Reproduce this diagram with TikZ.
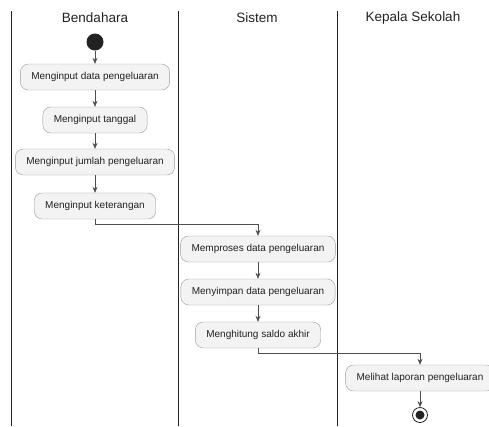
\documentclass[tikz,border=0pt]{standalone}
\usepackage{fontspec}
\setmainfont{Liberation Sans}
\usetikzlibrary{arrows.meta}
\definecolor{boxfill}{HTML}{F3F3F3}
\definecolor{boxline}{HTML}{9A9A9A}
\definecolor{ink}{HTML}{222222}

\tikzset{
    act/.style={draw=boxline,fill=boxfill,rounded corners=8pt,minimum height=26pt,
        inner xsep=11pt,font=\fontsize{10}{12}\selectfont,text=ink},
    flow/.style={-{Stealth[length=6pt,width=5pt]},draw=ink!80,line width=0.6pt},
    lane/.style={draw=ink,line width=0.8pt},
    lanehead/.style={font=\fontsize{13.5}{16}\selectfont,text=ink}
}

\begin{document}
\begin{tikzpicture}[x=1pt,y=-1pt]
    \useasboundingbox (0,0) rectangle (489,426);
    % lanes
    \draw[lane] (11,11) -- (11,426);
    \draw[lane] (178,11) -- (178,426);
    \draw[lane] (337,11) -- (337,426);
    \node[lanehead] at(95,18)(bend){Bendahara};
    \node[lanehead] at(257,18)(sis){Sistem};
    \node[lanehead] at(413,18)(kep){Kepala Sekolah};
    % start
    \node[circle,fill=ink,minimum size=17pt,inner sep=0pt] at(95,42)(start){};
    \node[act] at(95,77)(a1){Menginput data pengeluaran};
    \node[act] at(95,120)(a2){Menginput tanggal};
    \node[act] at(95,162)(a3){Menginput jumlah pengeluaran};
    \node[act] at(95,206)(a4){Menginput keterangan};
    \node[act] at(258,249)(a5){Memproses data pengeluaran};
    \node[act] at(258,292)(a6){Menyimpan data pengeluaran};
    \node[act] at(258,335)(a7){Menghitung saldo akhir};
    \node[act] at(420,378)(a8){Melihat laporan pengeluaran};
    % end
    \node[circle,draw=ink,line width=0.8pt,minimum size=15pt,inner sep=0pt] at(420,415)(stop){};
    \node[circle,fill=ink,minimum size=9pt,inner sep=0pt] at(stop.center)(stopin){};
    \draw[flow] (start) -- (a1);
    \draw[flow] (a1) -- (a2);
    \draw[flow] (a2) -- (a3);
    \draw[flow] (a3) -- (a4);
    \draw[flow] (a4.south) -- ++(0,5) -| (a5.north);
    \draw[flow] (a5) -- (a6);
    \draw[flow] (a6) -- (a7);
    \draw[flow] (a7.south) -- ++(0,5) -| (a8.north);
    \draw[flow] (a8) -- (stop);
\end{tikzpicture}
\end{document}
